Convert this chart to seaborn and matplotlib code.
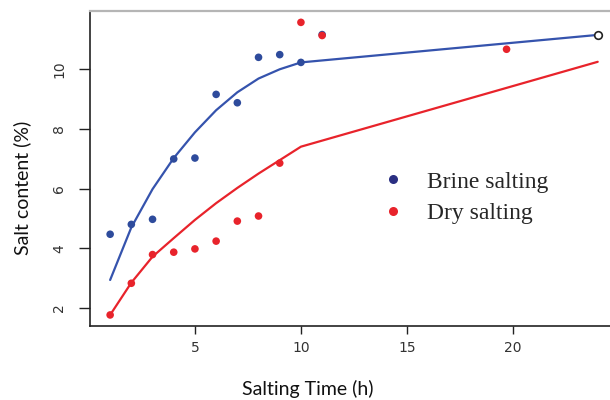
import matplotlib
matplotlib.use("Agg")
import matplotlib.pyplot as plt
import seaborn as sns
import pandas as pd
from matplotlib.lines import Line2D

# ---- data ----
brine_time = [1, 2, 3, 4, 5, 6, 7, 8, 9, 10, 11]
brine_salt = [4.47, 4.80, 4.97, 6.99, 7.02, 9.15, 8.87, 10.39, 10.48, 10.22, 11.15]
dry_time = [1, 2, 3, 4, 5, 6, 7, 8, 9, 10, 11, 19.7]
dry_salt = [1.77, 2.83, 3.79, 3.87, 3.98, 4.24, 4.91, 5.08, 6.85, 11.56, 11.12, 10.66]
fit_time = [1, 2, 3, 4, 5, 6, 7, 8, 9, 10, 24]
brine_fit = [2.94, 4.70, 5.98, 7.02, 7.88, 8.62, 9.22, 9.68, 9.99, 10.22, 11.14]
dry_fit = [1.77, 2.85, 3.72, 4.34, 4.95, 5.51, 6.02, 6.50, 6.95, 7.40, 10.24]
open_time = [24]
open_salt = [11.14]
x_ticks = [5, 10, 15, 20]
y_ticks = [2, 4, 6, 8, 10]
series_names = ["Brine salting", "Dry salting"]

BLUE_LINE = "#3553ad"
BLUE_DOT = "#2e4b9c"
RED = "#e8232b"

sns.set_style("ticks")

fig = plt.figure(figsize=(6.1, 4.0), dpi=100)
ax = fig.add_axes([90 / 610, 74 / 400, 520 / 610, 315 / 400])

pts = pd.DataFrame({
    "t": brine_time + dry_time,
    "s": brine_salt + dry_salt,
    "g": [series_names[0]] * len(brine_time) + [series_names[1]] * len(dry_time),
})
fits = pd.DataFrame({
    "t": fit_time + fit_time,
    "s": brine_fit + dry_fit,
    "g": [series_names[0]] * len(fit_time) + [series_names[1]] * len(fit_time),
})

sns.lineplot(data=fits, x="t", y="s", hue="g", palette=[BLUE_LINE, RED],
             linewidth=1.6, legend=False, ax=ax, sort=False)
sns.scatterplot(data=pts, x="t", y="s", hue="g", palette=[BLUE_DOT, RED],
                s=30, edgecolor="none", legend=False, ax=ax, zorder=3)
sns.scatterplot(x=open_time, y=open_salt, s=30, facecolor="white",
                edgecolor="#222222", linewidth=1.2, legend=False, ax=ax, zorder=4)

# legend (markers only)
handles = [Line2D([], [], linestyle="none", marker="o", markersize=6.5,
                  markerfacecolor=c, markeredgecolor="none")
           for c in ["#2a2f82", RED]]
ax.legend(handles, series_names, frameon=False, loc="center left",
          bbox_to_anchor=(0.56, 0.408), borderaxespad=0, borderpad=0,
          handlelength=1.0, handletextpad=0.95, labelspacing=0.42,
          prop={"family": "Liberation Serif", "size": 17})

ax.set_xlim(0.05, 24.58)
ax.set_ylim(1.40, 11.94)
ax.set_xticks(x_ticks)
ax.set_yticks(y_ticks)
ax.set_xticklabels([str(v) for v in x_ticks])
ax.set_yticklabels([str(v) for v in y_ticks], rotation=90, va="center")

ax.tick_params(axis="x", length=6, width=1, colors="#222222", labelcolor="#333333",
               labelsize=10, pad=5)
ax.tick_params(axis="y", length=8, width=1, colors="#222222", labelcolor="#333333",
               labelsize=10, pad=9)

for side in ["left", "bottom"]:
    ax.spines[side].set_color("#222222")
    ax.spines[side].set_linewidth(1.2)
ax.spines["top"].set_visible(True)
ax.spines["top"].set_color("#b5b5b5")
ax.spines["top"].set_linewidth(1.6)
ax.spines["right"].set_visible(False)

ax.set_xlabel("Salting Time (h)", family="Lato", fontsize=14, color="#111111")
ax.set_ylabel("Salt content (%)", family="Lato", fontsize=14, color="#111111")
ax.xaxis.label.set_va("center")
ax.yaxis.label.set_va("center")
ax.xaxis.set_label_coords((308 - 90) / 520, -(389 - 326) / 315)
ax.yaxis.set_label_coords(-(90 - 22) / 520, (326 - 188) / 315)

fig.savefig("out.png", dpi=100)
